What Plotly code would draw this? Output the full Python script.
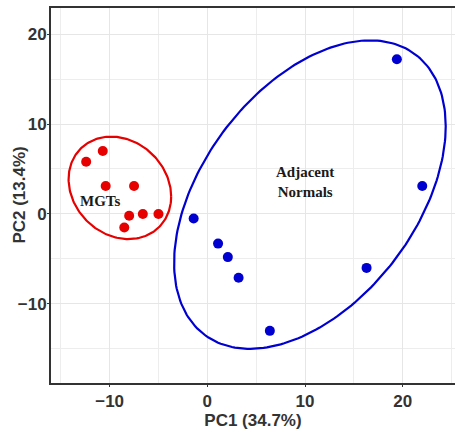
import numpy as np
import plotly.graph_objects as go

# Data
mgt_pc1 = [-12.4, -10.7, -10.4, -7.5, -8.0, -6.6, -5.0, -8.5]
mgt_pc2 = [5.8, 7.0, 3.1, 3.1, -0.2, 0.0, 0.0, -1.5]
adj_pc1 = [19.4, 22.0, -1.4, 1.1, 2.1, 3.2, 16.3, 6.4]
adj_pc2 = [17.2, 3.1, -0.5, -3.3, -4.8, -7.1, -6.0, -13.0]

# Confidence ellipse parameters: center x, center y, half-width, half-height, phase (deg)
mgt_ellipse = [-8.95, 2.9, 5.25, 5.7, 99.8]
adj_ellipse = [10.5, 2.15, 13.9, 17.15, 63.7]

x_ticks = [-10, 0, 10, 20]
y_ticks = [-10, 0, 10, 20]

RED = "#e60000"
BLUE = "#0000d0"


def ellipse(params, n=240):
    cx, cy, rx, ry, ph = params
    t = np.linspace(0, 2 * np.pi, n)
    return cx + rx * np.cos(t), cy + ry * np.cos(t - np.radians(ph))


fig = go.Figure()
ex, ey = ellipse(mgt_ellipse)
fig.add_trace(go.Scatter(x=ex, y=ey, mode="lines", line=dict(color=RED, width=2.2),
                         hoverinfo="skip", showlegend=False))
ex, ey = ellipse(adj_ellipse)
fig.add_trace(go.Scatter(x=ex, y=ey, mode="lines", line=dict(color=BLUE, width=2.2),
                         hoverinfo="skip", showlegend=False))
fig.add_trace(go.Scatter(x=mgt_pc1, y=mgt_pc2, mode="markers",
                         marker=dict(color=RED, size=10), showlegend=False))
fig.add_trace(go.Scatter(x=adj_pc1, y=adj_pc2, mode="markers",
                         marker=dict(color=BLUE, size=10), showlegend=False))

label_font = dict(family="Liberation Serif", size=15, color="#1a1a1a", weight="bold")
fig.add_annotation(x=-11.0, y=1.45, text="MGTs", showarrow=False, font=label_font)
fig.add_annotation(x=10.0, y=3.5, text="Adjacent<br>Normals", showarrow=False, font=label_font)

axis_font = dict(family="Liberation Sans", size=17, color="#333333", weight="bold")
fig.update_xaxes(range=[-16, 25.35], tickvals=x_ticks, ticks="outside", ticklen=2,
                 tickcolor="#333333", showline=True, linecolor="#333333", linewidth=2,
                 mirror=True, showgrid=True, gridcolor="#e6e6e6", gridwidth=1,
                 minor=dict(dtick=5, showgrid=True, gridcolor="#ededed", tick0=0),
                 zeroline=False, tickfont=axis_font,
                 title=dict(text="PC1 (34.7%)", font=axis_font, standoff=4))
fig.update_yaxes(range=[-18.8, 22.9], tickvals=y_ticks, ticks="outside", ticklen=2,
                 tickcolor="#333333", showline=True, linecolor="#333333", linewidth=2,
                 mirror=False, showgrid=True, gridcolor="#e6e6e6", gridwidth=1,
                 minor=dict(dtick=5, showgrid=True, gridcolor="#ededed", tick0=0),
                 zeroline=False, tickfont=axis_font, ticklabelstandoff=-3)
fig.add_annotation(x=-0.079, y=0.5, xref="paper", yref="paper", text="PC2 (13.4%)",
                   textangle=-90, showarrow=False, font=axis_font,
                   xanchor="center", yanchor="middle")
fig.update_layout(width=455, height=433, margin=dict(l=51, r=0, t=8, b=50),
                  plot_bgcolor="white", paper_bgcolor="white")
fig.write_html("out.html")
